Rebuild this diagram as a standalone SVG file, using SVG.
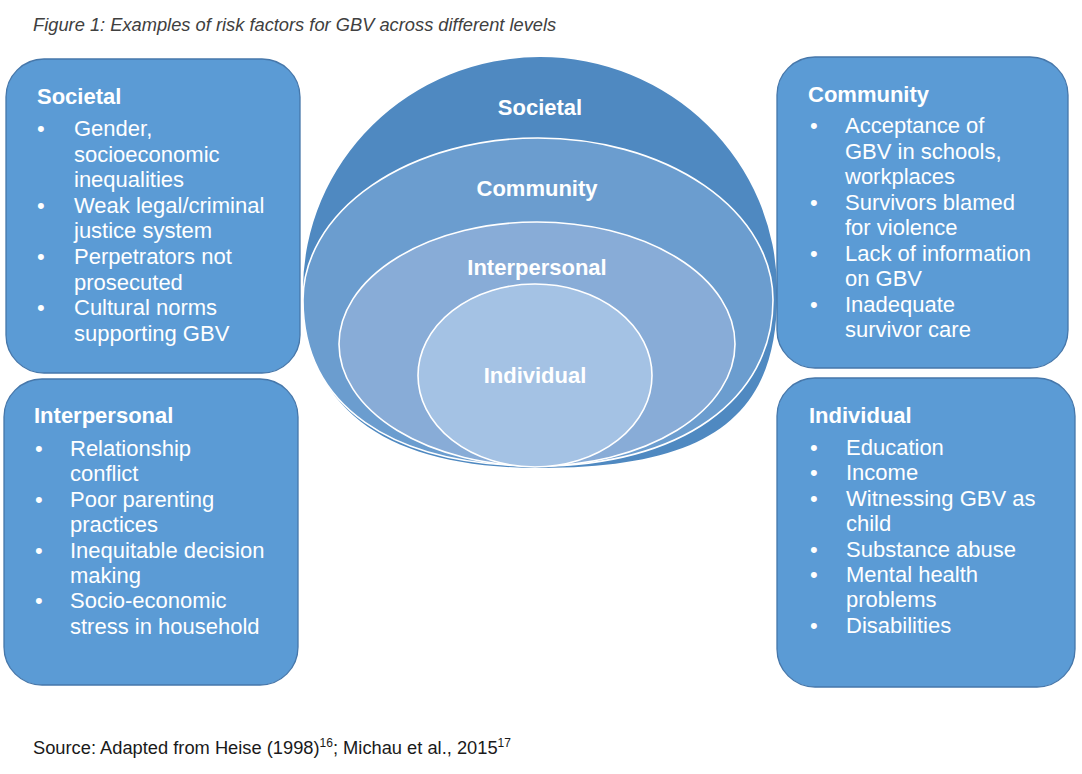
<svg xmlns="http://www.w3.org/2000/svg" width="1082" height="774" viewBox="0 0 1082 774">
  <style>
    .box { fill: #5b9bd5; stroke: #4677aa; stroke-width: 1.3; }
    .t { font-family: "Liberation Sans", Arial, sans-serif; fill: #ffffff; font-size: 22px; }
    .h { font-family: "Liberation Sans", Arial, sans-serif; fill: #ffffff; font-size: 22px; font-weight: bold; }
    .lbl { font-family: "Liberation Sans", Arial, sans-serif; fill: #ffffff; font-size: 22px; font-weight: bold; text-anchor: middle; }
    .ring { stroke: #ffffff; stroke-width: 1.6; }
    .cap { font-family: "Liberation Sans", Arial, sans-serif; }
  </style>
  <rect width="1082" height="774" fill="#ffffff"/>

  <text class="cap" x="33" y="31" font-size="18.3" font-style="italic" fill="#404040">Figure 1: Examples of risk factors for GBV across different levels</text>

  <g id="center-societal">
    <path d="M 303,290 A 237,233 0 0 1 777,290 C 779,415 712,468 540,468 C 380,468 303,405 303,290 Z" fill="#4f89c1"/>
    <text class="lbl" x="540" y="115">Societal</text>
  </g>
  <g id="center-community">
    <path class="ring" d="M 303,300 A 235,162 0 0 1 773,300 C 773,400 680,466 538,466 C 390,466 303,405 303,300 Z" fill="#6b9dcf"/>
    <text class="lbl" x="537" y="196">Community</text>
  </g>
  <g id="center-interpersonal">
    <ellipse class="ring" cx="537" cy="344" rx="198" ry="122" fill="#88acd7"/>
    <text class="lbl" x="537" y="275">Interpersonal</text>
  </g>
  <g id="center-individual">
    <ellipse class="ring" cx="535" cy="375.5" rx="117" ry="91.5" fill="#a4c2e4"/>
    <text class="lbl" x="535" y="383">Individual</text>
  </g>

  <g id="box-societal">
    <rect class="box" x="6" y="59" width="294" height="314" rx="38" ry="38"/>
    <text class="h" x="37" y="104">Societal</text>
    <g class="t">
      <text x="37" y="136">•</text><text x="74" y="136">Gender,</text>
      <text x="74" y="161.6">socioeconomic</text>
      <text x="74" y="187.2">inequalities</text>
      <text x="37" y="212.8">•</text><text x="74" y="212.8">Weak legal/criminal</text>
      <text x="74" y="238.4">justice system</text>
      <text x="37" y="264">•</text><text x="74" y="264">Perpetrators not</text>
      <text x="74" y="289.6">prosecuted</text>
      <text x="37" y="315.2">•</text><text x="74" y="315.2">Cultural norms</text>
      <text x="74" y="340.8">supporting GBV</text>
    </g>
  </g>

  <g id="box-interpersonal">
    <rect class="box" x="4" y="379" width="294" height="306" rx="38" ry="38"/>
    <text class="h" x="34" y="423">Interpersonal</text>
    <g class="t">
      <text x="35" y="456">•</text><text x="70" y="456">Relationship</text>
      <text x="70" y="481.4">conflict</text>
      <text x="35" y="506.8">•</text><text x="70" y="506.8">Poor parenting</text>
      <text x="70" y="532.2">practices</text>
      <text x="35" y="557.6">•</text><text x="70" y="557.6">Inequitable decision</text>
      <text x="70" y="583">making</text>
      <text x="35" y="608.4">•</text><text x="70" y="608.4">Socio-economic</text>
      <text x="70" y="633.8">stress in household</text>
    </g>
  </g>

  <g id="box-community">
    <rect class="box" x="777" y="57" width="291" height="311" rx="38" ry="38"/>
    <text class="h" x="808" y="102">Community</text>
    <g class="t">
      <text x="810" y="133">•</text><text x="845" y="133">Acceptance of</text>
      <text x="845" y="158.5">GBV in schools,</text>
      <text x="845" y="184">workplaces</text>
      <text x="810" y="209.5">•</text><text x="845" y="209.5">Survivors blamed</text>
      <text x="845" y="235">for violence</text>
      <text x="810" y="260.5">•</text><text x="845" y="260.5">Lack of information</text>
      <text x="845" y="286">on GBV</text>
      <text x="810" y="311.5">•</text><text x="845" y="311.5">Inadequate</text>
      <text x="845" y="337">survivor care</text>
    </g>
  </g>

  <g id="box-individual">
    <rect class="box" x="777" y="378" width="298" height="309" rx="38" ry="38"/>
    <text class="h" x="809" y="423">Individual</text>
    <g class="t">
      <text x="810" y="455">•</text><text x="846" y="455">Education</text>
      <text x="810" y="480.4">•</text><text x="846" y="480.4">Income</text>
      <text x="810" y="505.8">•</text><text x="846" y="505.8">Witnessing GBV as</text>
      <text x="846" y="531.2">child</text>
      <text x="810" y="556.6">•</text><text x="846" y="556.6">Substance abuse</text>
      <text x="810" y="582">•</text><text x="846" y="582">Mental health</text>
      <text x="846" y="607.4">problems</text>
      <text x="810" y="632.8">•</text><text x="846" y="632.8">Disabilities</text>
    </g>
  </g>

  <g id="connectors"></g>

  <text class="cap" x="33" y="754" font-size="18.3" fill="#1a1a1a">Source: Adapted from Heise (1998)<tspan font-size="12" dy="-7">16</tspan><tspan dy="7">; Michau et al., 2015</tspan><tspan font-size="12" dy="-7">17</tspan></text>
</svg>
